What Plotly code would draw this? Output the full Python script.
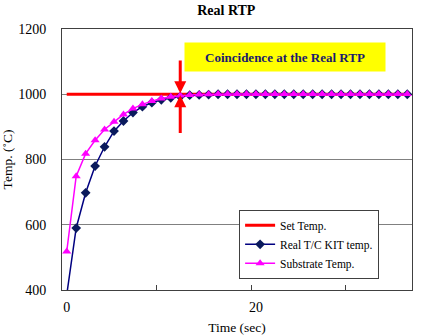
import plotly.graph_objects as go

time_sec = list(range(37))
set_temp = [1000] * 37
real_tc = [385, 590, 698, 780, 839, 887, 918, 944, 962, 974, 983, 989, 993, 997, 998,
           999, 1000, 1000, 1000, 1000, 1000, 1000, 1000, 1000, 1000, 1000, 1000, 1000,
           1000, 1000, 1000, 1000, 1000, 1000, 1000, 1000, 1000]
substrate = [518, 749, 818, 859, 892, 916, 938, 956, 969, 979, 987, 992, 996, 998, 999,
             1000, 1001, 1001, 1001, 1001, 1001, 1001, 1001, 1001, 1001, 1001, 1001, 1001,
             1001, 1001, 1001, 1001, 1001, 1001, 1001, 1001, 1001]
x_labels = [0, 20]
x_minor = [9.5, 19.5, 29.5]
y_ticks = [400, 600, 800, 1000, 1200]
mark_x = 12
mark_y = 1000

FONT = "Liberation Serif, Times New Roman, serif"

fig = go.Figure()
fig.add_trace(go.Scatter(x=time_sec, y=set_temp, name="Set Temp.", mode="lines",
                         line=dict(color="#ff0000", width=3)))
fig.add_trace(go.Scatter(x=time_sec, y=real_tc, name="Real T/C KIT temp.", mode="lines+markers",
                         line=dict(color="#000080", width=1.5),
                         marker=dict(symbol="diamond", size=7.5, color="#0a1a5c")))
fig.add_trace(go.Scatter(x=time_sec, y=substrate, name="Substrate Temp.", mode="lines+markers",
                         line=dict(color="#ff00ff", width=1.5),
                         marker=dict(symbol="triangle-up", size=8, color="#ff00ff")))

# arrows
fig.add_annotation(x=mark_x, y=mark_y, ax=mark_x, ay=1108, xref="x", yref="y", axref="x", ayref="y",
                   text="", showarrow=True, arrowhead=2, arrowsize=0.8, arrowwidth=3, arrowcolor="#ff0000",
                   standoff=1)
fig.add_annotation(x=mark_x, y=mark_y, ax=mark_x, ay=877, xref="x", yref="y", axref="x", ayref="y",
                   text="", showarrow=True, arrowhead=2, arrowsize=0.8, arrowwidth=3, arrowcolor="#ff0000",
                   standoff=1)
fig.add_annotation(x=((184 + 386) / 2 - 62) / 350, y=(290 - 57) / 261, xref="paper", yref="paper",
                   xanchor="center", yanchor="middle",
                   text="<b>Coincidence at the Real RTP</b>",
                   showarrow=False, font=dict(family=FONT, size=13, color="#1a1a6e"),
                   bgcolor="#ffff00", width=198, height=26)

fig.update_layout(
    width=427, height=335,
    margin=dict(l=62, r=15, t=29, b=45),
    paper_bgcolor="white", plot_bgcolor="white",
    title=dict(text="<b>Real RTP</b>", x=0.53, xanchor="center", y=0.97, yanchor="middle",
               font=dict(family=FONT, size=14, color="black")),
    font=dict(family=FONT, size=13, color="black"),
    showlegend=True,
    legend=dict(x=0.506, y=0.307, xanchor="left", yanchor="top", bgcolor="white",
                bordercolor="#404040", borderwidth=1, font=dict(family=FONT, size=11.5),
                itemwidth=30, tracegroupgap=0),
    xaxis=dict(range=[-0.5, 36.5], tickvals=x_labels, ticktext=[str(v) for v in x_labels],
               ticks="", showgrid=False, zeroline=False, showline=True, linecolor="#404040",
               mirror=True, automargin=False, ticklabelstandoff=4, tickfont=dict(size=14),
               title=dict(text="Time (sec)", font=dict(size=13.5), standoff=10),
               minor=dict(tickvals=x_minor, ticks="inside", ticklen=5, tickcolor="#404040", showgrid=False)),
    yaxis=dict(range=[400, 1200], tickvals=y_ticks, ticks="outside", ticklen=12,
               tickcolor="rgba(0,0,0,0)", showgrid=True, gridcolor="#808080",
               gridwidth=1, zeroline=False, showline=True, linecolor="#404040", mirror=True,
               automargin=False, tickfont=dict(size=14),
               title=dict(text="Temp. (˚C)", font=dict(size=13.5), standoff=3)),
)

fig.write_html("out.html")
